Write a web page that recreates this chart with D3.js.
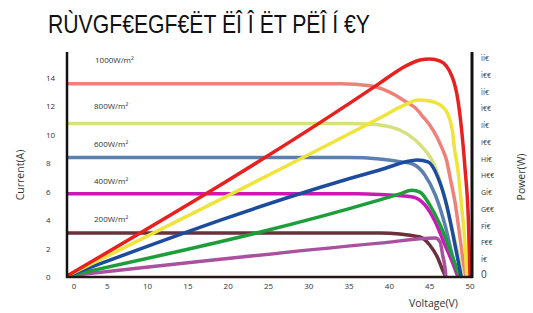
<!DOCTYPE html>
<html>
<head>
<meta charset="utf-8">
<script src="https://cdn.jsdelivr.net/npm/d3@7"></script>
<style>
  body { margin: 0; background: #fff; }
  svg text { font-family: "Open Sans", "DejaVu Sans", sans-serif; fill: #333; }
</style>
</head>
<body>
<svg id="chart" width="533" height="313"></svg>
<script>
// tick labels as drawn in the reference (garbled glyphs kept as they are)
const title = "RÙVGF€EGF€ËT ËÎ Î ËT PËÎ Í €Y";
const xTicks = [0, 5, 10, 15, 20, 25, 30, 35, 40, 45, 50];
const currentTicks = [0, 2, 4, 6, 8, 10, 12, 14];
const powerTicks = [0, 50, 100, 150, 200, 250, 300, 350, 400, 450, 500, 550, 600, 650];
const powerTickLabels = ["0", "Í€", "F€€", "FÍ€", "G€€", "GÍ€", "H€€", "HÍ€", "I€€", "IÍ€", "Ì€€", "ÌÍ€", "Ì€€", "ÌÍ€"];
const irradiance = ["1000W/m²", "800W/m²", "600W/m²", "400W/m²", "200W/m²"];

// I-V curves [voltage, current]
const iv1000 = [[0,13.6],[33.9,13.6],[37.6,13.45],[40.7,12.8],[41.7,12.45],[43.2,11.9],[44.2,11.25],[45.0,10.7],[45.9,9.85],[46.5,9.1],[47.1,8.2],[47.6,6.8],[48.1,5.4],[48.8,2.6],[49.4,0]];
const iv800 = [[0,10.8],[35.0,10.8],[37.6,10.75],[38.8,10.7],[41.3,10.34],[43.2,9.64],[44.4,8.93],[45.4,8.09],[46.6,6.12],[47.5,4.0],[48.4,1.9],[49.1,0]];
const iv600 = [[0,8.4],[35.0,8.4],[38.8,8.3],[41.5,8.1],[42.9,7.95],[44.4,7.18],[45.7,5.77],[46.9,3.66],[47.8,1.55],[48.6,0]];
const iv400 = [[0,5.85],[36.0,5.85],[38.8,5.8],[42.9,5.63],[44.4,5.07],[45.7,3.87],[46.9,2.25],[47.8,1.06],[48.5,0]];
const iv200 = [[0,3.1],[37.0,3.1],[38.8,3.1],[43.8,2.81],[45.0,2.25],[46.0,1.34],[46.6,0.49],[47.0,0]];

// P-V curves [voltage, power]
const pv1000 = [[0,0],[38.8,575],[41.3,616],[43.8,644],[45.0,647],[46.3,641],[47.8,593],[48.5,525],[49.0,426],[49.4,316],[49.8,167],[50.0,0]];
const pv800 = [[0,0],[38.8,471],[41.9,510],[43.6,525],[45.0,522],[46.3,510],[47.3,480],[47.8,435],[48.1,376],[48.5,316],[49.0,197],[49.4,92],[49.6,0]];
const pv600 = [[0,0],[38.8,316],[43.5,346],[44.8,340],[46.0,295],[47.1,212],[47.9,122],[48.5,48],[48.9,0]];
const pv400 = [[0,0],[38.8,227],[41.3,245],[42.8,256],[43.8,250],[45.0,212],[46.3,152],[47.5,78],[48.4,18],[48.7,0]];
const pv200 = [[0,0],[38.8,98],[45.7,113],[46.3,101],[46.6,63],[46.9,24],[47.0,0]];

const ivSeries = [
  { pts: iv1000, color: "#ef817a" },
  { pts: iv800, color: "#d5e07e" },
  { pts: iv600, color: "#5b80ae" },
  { pts: iv400, color: "#cc18b9" },
  { pts: iv200, color: "#6c2f3c" }
];
const pvSeries = [
  { pts: pv200, color: "#a9509f" },
  { pts: pv400, color: "#1e9e3b" },
  { pts: pv600, color: "#1d4b9e" },
  { pts: pv800, color: "#f0e43a" },
  { pts: pv1000, color: "#e8201f" }
];

const svg = d3.select("#chart");

const x = d3.scaleLinear().domain([0, 50]).range([67, 470]);
const yI = d3.scaleLinear().domain([0, 14]).range([277, 78]);
const yP = d3.scaleLinear().domain([0, 650]).range([276, 58]);

svg.append("text")
  .text(title)
  .attr("x", 48).attr("y", 33)
  .attr("textLength", 322).attr("lengthAdjust", "spacingAndGlyphs")
  .style("font-family", "'Liberation Sans', Arial, sans-serif")
  .style("font-size", "26px")
  .style("fill", "#111");

const ivLine = d3.line().x(d => x(d[0])).y(d => yI(d[1])).curve(d3.curveMonotoneX);
const pvLine = d3.line().x(d => x(d[0])).y(d => yP(d[1])).curve(d3.curveMonotoneX);

svg.selectAll(".iv")
  .data(ivSeries)
  .enter()
  .append("path")
  .attr("class", "iv")
  .attr("d", d => ivLine(d.pts))
  .attr("fill", "none")
  .attr("stroke", d => d.color)
  .attr("stroke-width", 3.5)
  .attr("stroke-linejoin", "round");

svg.selectAll(".pv")
  .data(pvSeries)
  .enter()
  .append("path")
  .attr("class", "pv")
  .attr("d", d => pvLine(d.pts))
  .attr("fill", "none")
  .attr("stroke", d => d.color)
  .attr("stroke-width", 3.5)
  .attr("stroke-linejoin", "round");

// irradiance labels sit just above each flat I-V segment
svg.selectAll(".irr")
  .data(irradiance)
  .enter()
  .append("text")
  .attr("class", "irr")
  .text(d => d)
  .attr("x", (d, i) => i == 0 ? 95 : 94)
  .attr("y", (d, i) => [63, 109, 147, 184, 222][i])
  .style("font-size", "8px");

// axes frame
svg.append("line").attr("x1", 67).attr("x2", 67).attr("y1", 52).attr("y2", 278)
  .attr("stroke", "#111").attr("stroke-width", 2.5);
svg.append("line").attr("x1", 66).attr("x2", 473).attr("y1", 277).attr("y2", 277)
  .attr("stroke", "#231815").attr("stroke-width", 2.5);
svg.append("line").attr("x1", 472).attr("x2", 472).attr("y1", 52).attr("y2", 278)
  .attr("stroke", "#111").attr("stroke-width", 3);

svg.selectAll(".xt")
  .data(xTicks)
  .enter()
  .append("text")
  .attr("class", "xt")
  .text(d => d)
  .attr("x", d => x(d) + (d == 0 ? 7 : 0))
  .attr("y", 289)
  .attr("text-anchor", "middle")
  .style("font-size", "8px");

svg.selectAll(".yt")
  .data(currentTicks)
  .enter()
  .append("text")
  .attr("class", "yt")
  .text(d => d)
  .attr("x", 46)
  .attr("y", d => yI(d) + 3)
  .style("font-size", "8px");

svg.selectAll(".pt")
  .data(powerTicks)
  .enter()
  .append("text")
  .attr("class", "pt")
  .text((d, i) => powerTickLabels[i])
  .attr("x", 481)
  .attr("y", d => yP(d) + (d == 0 ? 2 : 3))
  .style("font-size", d => d == 0 ? "10px" : "7px");

svg.append("text")
  .text("Current(A)")
  .attr("transform", "translate(24,175) rotate(-90)")
  .attr("text-anchor", "middle")
  .style("font-size", "10.5px");

svg.append("text")
  .text("Power(W)")
  .attr("transform", "translate(525,177) rotate(-90)")
  .attr("text-anchor", "middle")
  .style("font-size", "10.5px");

svg.append("text")
  .text("Voltage(V)")
  .attr("x", 409).attr("y", 307)
  .style("font-size", "10.5px");
</script>
</body>
</html>
